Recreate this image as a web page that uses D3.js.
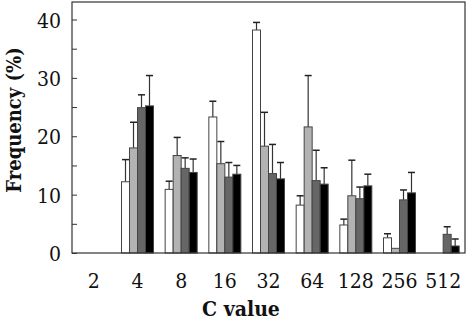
<!DOCTYPE html>
<html>
<head>
<meta charset="utf-8">
<script src="https://cdn.jsdelivr.net/npm/d3@7"></script>
<style>
  body { margin: 0; background: #fff; }
</style>
</head>
<body>
<div id="chart"></div>
<script>
// C values (x categories)
var cValues = ["2", "4", "8", "16", "32", "64", "128", "256", "512"];
var seriesNames = ["s1", "s2", "s3", "s4"];
var seriesColors = ["#ffffff", "#b3b3b3", "#666666", "#000000"];

// frequency (%) and upper error per series
var s1 = [0, 12.2, 10.9, 23.3, 38.2, 8.2, 4.8, 2.6, 0];
var s1Err = [0, 3.8, 1.4, 2.7, 1.3, 1.6, 1.0, 0.7, 0];
var s2 = [0, 18.0, 16.7, 15.3, 18.3, 21.6, 9.8, 0.8, 0];
var s2Err = [0, 4.4, 3.1, 3.8, 5.8, 8.8, 6.1, 0, 0];
var s3 = [0, 24.9, 14.5, 13.0, 13.6, 12.4, 9.3, 9.1, 3.2];
var s3Err = [0, 2.2, 1.8, 2.5, 5.0, 5.2, 2.0, 1.7, 1.3];
var s4 = [0, 25.2, 13.8, 13.5, 12.7, 11.8, 11.5, 10.3, 1.2];
var s4Err = [0, 5.2, 2.3, 1.5, 2.8, 2.8, 2.0, 3.5, 1.2];

var yTicks = [0, 10, 20, 30, 40];
var yMinorTicks = [0, 5, 10, 15, 20, 25, 30, 35, 40];

var values = [s1, s2, s3, s4];
var errs = [s1Err, s2Err, s3Err, s4Err];

var FONT = "'DejaVu Serif Condensed', 'DejaVu Serif', serif";

var W = 466, H = 327;
var margin = {top: 2, right: 1, bottom: 74, left: 72};
var width = W - margin.left - margin.right,
    height = H - margin.top - margin.bottom;

var svg = d3.select("#chart").append("svg")
    .attr("width", W)
    .attr("height", H);

var g = svg.append("g")
    .attr("transform", "translate(" + margin.left + "," + margin.top + ")");

var x0 = d3.scaleBand()
    .domain(cValues)
    .range([0, width])
    .padding(0);

var barW = 8;
var x1 = d3.scaleBand()
    .domain(seriesNames)
    .range([(x0.bandwidth() - barW * 4) / 2, (x0.bandwidth() + barW * 4) / 2])
    .padding(0);

var y = d3.scaleLinear()
    .domain([0, 43])
    .range([height, 0]);

// flatten data
var bars = [];
cValues.forEach(function(c, i) {
    seriesNames.forEach(function(s, j) {
        bars.push({c: c, s: s, color: seriesColors[j], v: values[j][i], e: errs[j][i]});
    });
});
bars = bars.filter(d => d.v > 0);

// error bars (drawn under the bars)
var eb = g.selectAll(".err")
    .data(bars.filter(d => d.e > 0))
    .enter().append("g")
    .attr("class", "err");

eb.append("line")
    .attr("x1", d => x0(d.c) + x1(d.s) + barW / 2)
    .attr("x2", d => x0(d.c) + x1(d.s) + barW / 2)
    .attr("y1", d => y(d.v))
    .attr("y2", d => y(d.v + d.e))
    .style("stroke", "#333")
    .style("stroke-width", 1.2);

eb.append("line")
    .attr("x1", d => x0(d.c) + x1(d.s) + barW / 2 - 3.5)
    .attr("x2", d => x0(d.c) + x1(d.s) + barW / 2 + 3.5)
    .attr("y1", d => y(d.v + d.e))
    .attr("y2", d => y(d.v + d.e))
    .style("stroke", "#222")
    .style("stroke-width", 1.5);

g.selectAll(".bar")
    .data(bars)
    .enter().append("rect")
    .attr("class", "bar")
    .attr("x", d => x0(d.c) + x1(d.s))
    .attr("y", d => y(d.v))
    .attr("width", barW)
    .attr("height", d => height - y(d.v))
    .style("fill", d => d.color)
    .style("stroke", "#444")
    .style("stroke-width", 1);

// frame
g.append("rect")
    .attr("x", 0)
    .attr("y", 0)
    .attr("width", width)
    .attr("height", height)
    .style("fill", "none")
    .style("stroke", "#333")
    .style("stroke-width", 1.2);

// y axis: inward ticks every 5, labels every 10
var yAxis = g.append("g")
    .call(d3.axisRight(y).tickValues(yMinorTicks).tickSize(5).tickFormat(""));
yAxis.select(".domain").remove();
yAxis.selectAll("line").style("stroke", "#333");

var yLab = g.append("g")
    .call(d3.axisLeft(y).tickValues(yTicks).tickSize(0).tickPadding(11).tickFormat(d3.format("d")));
yLab.select(".domain").remove();
yLab.attr("font-family", FONT);
yLab.selectAll("text")
    .attr("font-family", FONT)
    .style("font-stretch", "condensed")
    .style("font-size", "21px")
    .style("fill", "#111")
    .attr("dy", "0.36em");

// x axis labels
var xAxis = g.append("g")
    .attr("transform", "translate(0," + height + ")")
    .call(d3.axisBottom(x0).tickSize(0).tickPadding(20));
xAxis.select(".domain").remove();
xAxis.attr("font-family", FONT);
xAxis.selectAll("text")
    .attr("font-family", FONT)
    .style("font-stretch", "condensed")
    .style("font-size", "21px")
    .style("fill", "#111");

// axis titles
svg.append("text")
    .attr("x", 241)
    .attr("y", 316)
    .attr("text-anchor", "middle")
    .attr("font-family", FONT)
    .style("font-stretch", "condensed")
    .style("font-size", "21px")
    .style("font-weight", "bold")
    .style("fill", "#111")
    .text("C value");

svg.append("text")
    .attr("transform", "translate(21,120) rotate(-90)")
    .attr("text-anchor", "middle")
    .attr("font-family", FONT)
    .style("font-stretch", "condensed")
    .style("font-size", "20px")
    .style("font-weight", "bold")
    .style("fill", "#111")
    .text("Frequency (%)");
</script>
</body>
</html>
